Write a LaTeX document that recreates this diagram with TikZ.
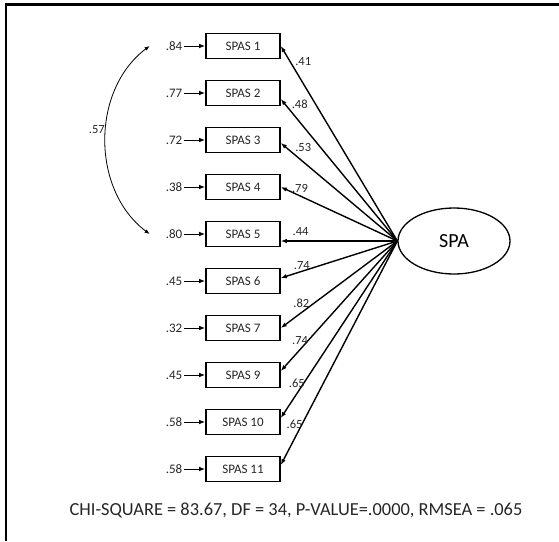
\documentclass[tikz,border=0pt]{standalone}
\usepackage{fontspec}
\setmainfont{Carlito}
\usepackage{tikz}
\usetikzlibrary{shapes, arrows.meta, positioning}

\begin{document}
\begin{tikzpicture}[x=1pt, y=1pt, node distance=47pt, >={Latex[length=6pt, width=4.5pt]},
    item/.style={draw, rectangle, line width=1.6pt, minimum width=74pt, minimum height=25pt, inner sep=0pt, text=black!85, font=\fontsize{13}{15}\selectfont},
    err/.style={node distance=69pt, inner sep=2pt, text=black!85, font=\fontsize{13}{15}\selectfont},
    load/.style={inner sep=1pt, text=black!85, font=\fontsize{12.5}{14}\selectfont},
    loading/.style={->, line width=1.4pt}]
    \useasboundingbox (0,0) rectangle (559,-541);
    \draw [line width=2.4pt] (559,-4.5) -- (6.2,-4.5) -- (6.2,-541);

    \node [item] at (243,-46) (s1) {SPAS 1};
    \node [item, below of=s1] (s2) {SPAS 2};
    \node [item, below of=s2] (s3) {SPAS 3};
    \node [item, below of=s3] (s4) {SPAS 4};
    \node [item, below of=s4] (s5) {SPAS 5};
    \node [item, below of=s5] (s6) {SPAS 6};
    \node [item, below of=s6] (s7) {SPAS 7};
    \node [item, below of=s7] (s9) {SPAS 9};
    \node [item, below of=s9] (s10) {SPAS 10};
    \node [item, below of=s10] (s11) {SPAS 11};

    \node [draw, ellipse, line width=1.3pt, minimum width=112pt, minimum height=66pt, inner sep=0pt, font=\fontsize{20}{24}\selectfont] at (454,-241) (spa) {SPA};

    \node [err, left of=s1] (e1) {.84};
    \node [err, left of=s2] (e2) {.77};
    \node [err, left of=s3] (e3) {.72};
    \node [err, left of=s4] (e4) {.38};
    \node [err, left of=s5] (e5) {.80};
    \node [err, left of=s6] (e6) {.45};
    \node [err, left of=s7] (e7) {.32};
    \node [err, left of=s9] (e9) {.45};
    \node [err, left of=s10] (e10) {.58};
    \node [err, left of=s11] (e11) {.58};

    \draw [->, line width=1pt] (e1) -- (s1);
    \draw [->, line width=1pt] (e2) -- (s2);
    \draw [->, line width=1pt] (e3) -- (s3);
    \draw [->, line width=1pt] (e4) -- (s4);
    \draw [->, line width=1pt] (e5) -- (s5);
    \draw [->, line width=1pt] (e6) -- (s6);
    \draw [->, line width=1pt] (e7) -- (s7);
    \draw [->, line width=1pt] (e9) -- (s9);
    \draw [->, line width=1pt] (e10) -- (s10);
    \draw [->, line width=1pt] (e11) -- (s11);

    % correlated errors
    \draw [{Latex[length=5pt, width=4pt]}-{Latex[length=5pt, width=4pt]}, line width=0.8pt] ([xshift=-14pt]e1.west) to [bend right=53] node [load, pos=0.45, left] {.57} ([xshift=-14pt]e5.west);

    % loadings
    \draw [loading] (spa.west) -- node [load, pos=0.89, above right] {.41} (s1.east);
    \draw [loading] (spa.west) -- node [load, pos=0.92, above right] {.48} ([yshift=-6pt]s2.east);
    \draw [loading] (spa.west) -- node [load, pos=0.89, above right] {.53} ([yshift=-3pt]s3.east);
    \draw [loading] (spa.west) -- node [load, pos=0.87, above, xshift=4pt] {.79} (s4.east);
    \draw [loading] (spa.west) -- node [load, pos=0.83, above, yshift=4pt] {.44} (spa.west -| s5.east);
    \draw [loading] (spa.west) -- node [load, pos=0.82, above] {.74} ([yshift=3pt]s6.east);
    \draw [loading] (spa.west) -- node [load, pos=0.79, above, xshift=-4pt] {.82} (s7.east);
    \draw [loading] (spa.west) -- node [load, pos=0.80, xshift=-4pt, yshift=4pt] {.74} ([yshift=4pt]s9.east);
    \draw [loading] (spa.west) -- node [load, pos=0.82, xshift=-5pt, yshift=3pt] {.65} ([yshift=4pt]s10.east);
    \draw [loading] (spa.west) -- node [load, pos=0.83, xshift=-6pt, yshift=3pt] {.65} ([yshift=4pt]s11.east);

    \node [text=black!85, font=\fontsize{18.4}{22}\selectfont] at (296,-510) (fitline) {CHI-SQUARE = 83.67, DF = 34, P-VALUE=.0000, RMSEA = .065};
\end{tikzpicture}
\end{document}
